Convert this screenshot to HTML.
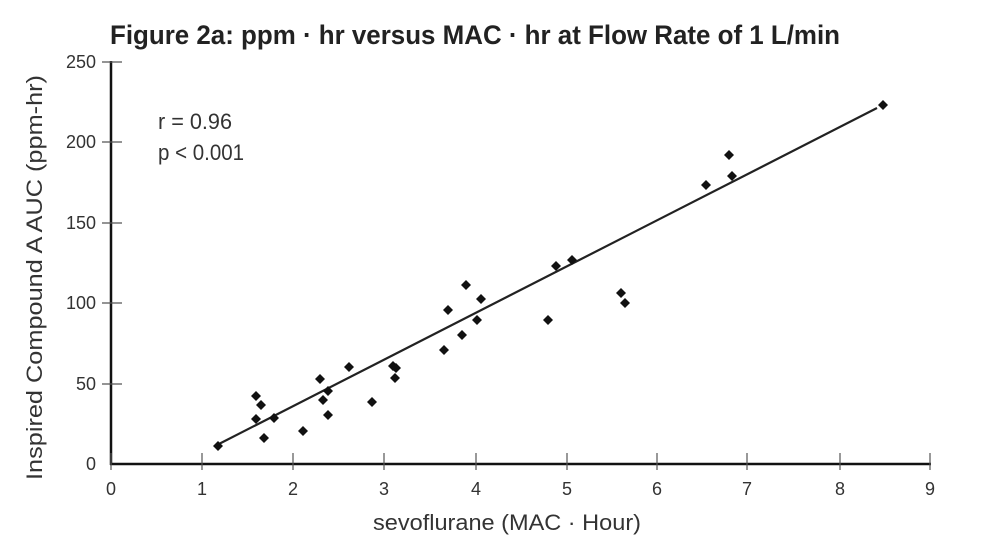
<!DOCTYPE html>
<html><head><meta charset="utf-8"><style>body{margin:0;background:#fff}svg{display:block}</style></head>
<body>
<svg width="991" height="548" viewBox="0 0 991 548" xmlns="http://www.w3.org/2000/svg" font-family="'Liberation Sans', sans-serif" fill="#222">
<rect width="991" height="548" fill="#fff"/>
<text x="110" y="44" font-size="27" font-weight="bold" textLength="730" lengthAdjust="spacingAndGlyphs">Figure 2a: ppm · hr versus MAC · hr at Flow Rate of 1 L/min</text>
<g stroke="#111" stroke-width="2.5" fill="none">
<line x1="111" y1="61" x2="111" y2="465"/>
<line x1="110" y1="464" x2="931" y2="464"/>
</g>
<g stroke="#555" stroke-width="1.2">
<line x1="102" y1="62" x2="122" y2="62"/><line x1="102" y1="142" x2="122" y2="142"/><line x1="102" y1="223" x2="122" y2="223"/><line x1="102" y1="303" x2="122" y2="303"/><line x1="102" y1="384" x2="122" y2="384"/>
<line x1="111" y1="453" x2="111" y2="470"/><line x1="202" y1="453" x2="202" y2="470"/><line x1="293" y1="453" x2="293" y2="470"/><line x1="384" y1="453" x2="384" y2="470"/><line x1="476" y1="453" x2="476" y2="470"/><line x1="567" y1="453" x2="567" y2="470"/><line x1="657" y1="453" x2="657" y2="470"/><line x1="747" y1="453" x2="747" y2="470"/><line x1="840" y1="453" x2="840" y2="470"/><line x1="930" y1="453" x2="930" y2="470"/>
</g>
<g font-size="18" text-anchor="end" fill="#333">
<text x="96" y="68">250</text><text x="96" y="148">200</text><text x="96" y="229">150</text><text x="96" y="309">100</text><text x="96" y="390">50</text><text x="96" y="470">0</text>
</g>
<g font-size="18" text-anchor="middle" fill="#333">
<text x="111" y="495">0</text><text x="202" y="495">1</text><text x="293" y="495">2</text><text x="384" y="495">3</text><text x="476" y="495">4</text><text x="567" y="495">5</text><text x="657" y="495">6</text><text x="747" y="495">7</text><text x="840" y="495">8</text><text x="930" y="495">9</text>
</g>
<text x="373" y="530" font-size="22" fill="#333" textLength="268" lengthAdjust="spacingAndGlyphs">sevoflurane (MAC · Hour)</text>
<text transform="translate(42 480) rotate(-90)" font-size="22" fill="#333" textLength="405" lengthAdjust="spacingAndGlyphs">Inspired Compound A AUC (ppm-hr)</text>
<text x="158" y="129" font-size="22" fill="#333" textLength="74" lengthAdjust="spacingAndGlyphs">r = 0.96</text>
<text x="158" y="160" font-size="22" fill="#333" textLength="86" lengthAdjust="spacingAndGlyphs">p &lt; 0.001</text>
<line x1="215" y1="446" x2="877" y2="108" stroke="#222" stroke-width="2.2"/>
<g fill="#111">
<path d="M0,-5L5,0L0,5L-5,0Z" transform="translate(218,446)"/>
<path d="M0,-5L5,0L0,5L-5,0Z" transform="translate(256,396)"/>
<path d="M0,-5L5,0L0,5L-5,0Z" transform="translate(261,405)"/>
<path d="M0,-5L5,0L0,5L-5,0Z" transform="translate(256,419)"/>
<path d="M0,-5L5,0L0,5L-5,0Z" transform="translate(264,438)"/>
<path d="M0,-5L5,0L0,5L-5,0Z" transform="translate(274,418)"/>
<path d="M0,-5L5,0L0,5L-5,0Z" transform="translate(303,431)"/>
<path d="M0,-5L5,0L0,5L-5,0Z" transform="translate(320,379)"/>
<path d="M0,-5L5,0L0,5L-5,0Z" transform="translate(323,400)"/>
<path d="M0,-5L5,0L0,5L-5,0Z" transform="translate(328,391)"/>
<path d="M0,-5L5,0L0,5L-5,0Z" transform="translate(328,415)"/>
<path d="M0,-5L5,0L0,5L-5,0Z" transform="translate(349,367)"/>
<path d="M0,-5L5,0L0,5L-5,0Z" transform="translate(372,402)"/>
<path d="M0,-5L5,0L0,5L-5,0Z" transform="translate(393,366)"/>
<path d="M0,-5L5,0L0,5L-5,0Z" transform="translate(396,368)"/>
<path d="M0,-5L5,0L0,5L-5,0Z" transform="translate(395,378)"/>
<path d="M0,-5L5,0L0,5L-5,0Z" transform="translate(444,350)"/>
<path d="M0,-5L5,0L0,5L-5,0Z" transform="translate(448,310)"/>
<path d="M0,-5L5,0L0,5L-5,0Z" transform="translate(462,335)"/>
<path d="M0,-5L5,0L0,5L-5,0Z" transform="translate(466,285)"/>
<path d="M0,-5L5,0L0,5L-5,0Z" transform="translate(477,320)"/>
<path d="M0,-5L5,0L0,5L-5,0Z" transform="translate(481,299)"/>
<path d="M0,-5L5,0L0,5L-5,0Z" transform="translate(548,320)"/>
<path d="M0,-5L5,0L0,5L-5,0Z" transform="translate(556,266)"/>
<path d="M0,-5L5,0L0,5L-5,0Z" transform="translate(572,260)"/>
<path d="M0,-5L5,0L0,5L-5,0Z" transform="translate(621,293)"/>
<path d="M0,-5L5,0L0,5L-5,0Z" transform="translate(625,303)"/>
<path d="M0,-5L5,0L0,5L-5,0Z" transform="translate(706,185)"/>
<path d="M0,-5L5,0L0,5L-5,0Z" transform="translate(729,155)"/>
<path d="M0,-5L5,0L0,5L-5,0Z" transform="translate(732,176)"/>
<path d="M0,-5L5,0L0,5L-5,0Z" transform="translate(883,105)"/>
</g>
</svg>
</body></html>
